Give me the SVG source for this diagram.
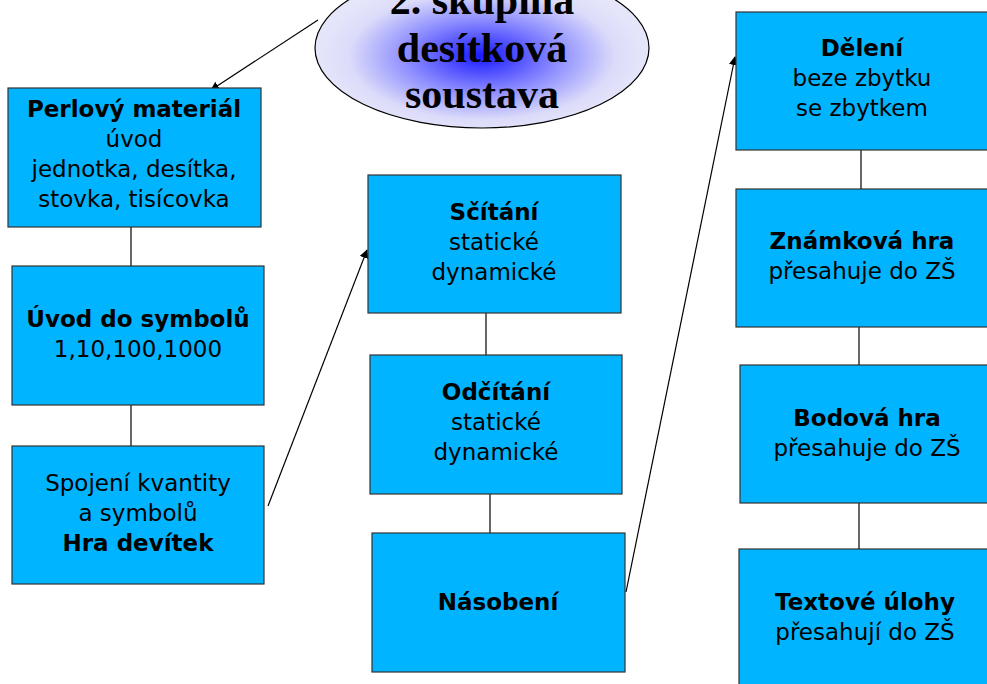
<svg xmlns="http://www.w3.org/2000/svg" width="987" height="684" viewBox="0 0 987 684">
<defs>
<radialGradient id="eg" cx="50%" cy="55%" r="50%">
<stop offset="0" stop-color="#1a1aff"/>
<stop offset="0.45" stop-color="#8c8cff"/>
<stop offset="0.8" stop-color="#dcdcfa"/>
<stop offset="1" stop-color="#e6e6fa"/>
</radialGradient>
<marker id="ah" viewBox="0 0 10 10" refX="9" refY="5" markerWidth="9" markerHeight="9" markerUnits="userSpaceOnUse" orient="auto">
<path d="M0,0 L10,5 L0,10 z" fill="#000"/>
</marker>
</defs>
<style>
.box{fill:#00b4ff;stroke:#333;stroke-width:1.2}
.t{font-family:"DejaVu Sans",sans-serif;font-size:23px;fill:#000;text-anchor:middle}
.b{font-weight:bold}
.c{stroke:#000;stroke-width:1.2;fill:none}
.e{font-family:"Liberation Serif",serif;font-weight:bold;font-size:42px;fill:#000;text-anchor:middle}
</style>
<g id="connectors">
<line class="c" x1="318" y1="20" x2="211" y2="90" marker-end="url(#ah)"/>
<line class="c" x1="268" y1="506" x2="367" y2="250" marker-end="url(#ah)"/>
<line class="c" x1="626" y1="592" x2="735" y2="57" marker-end="url(#ah)"/>
<line class="c" x1="131" y1="227" x2="131" y2="266"/>
<line class="c" x1="131" y1="405" x2="131" y2="446"/>
<line class="c" x1="486" y1="313" x2="486" y2="355"/>
<line class="c" x1="490" y1="494" x2="490" y2="539"/>
<line class="c" x1="861" y1="150" x2="861" y2="189"/>
<line class="c" x1="859" y1="327" x2="859" y2="365"/>
<line class="c" x1="859" y1="503" x2="859" y2="549"/>
</g>
<g id="ellipse">
<ellipse cx="482" cy="48" rx="167" ry="80" fill="url(#eg)" stroke="#000" stroke-width="1.2"/>
<text class="e" x="482" y="14">2. skupina</text>
<text class="e" x="482" y="62">desítková</text>
<text class="e" x="482" y="108">soustava</text>
</g>
<g id="perlovy">
<rect class="box" x="8" y="88" width="253" height="139"/>
<text class="t b" x="134" y="117">Perlový materiál</text>
<text class="t" x="134" y="147">úvod</text>
<text class="t" x="134" y="177">jednotka, desítka,</text>
<text class="t" x="134" y="207">stovka, tisícovka</text>
</g>
<g id="uvod">
<rect class="box" x="12" y="266" width="252" height="139"/>
<text class="t b" x="138" y="327">Úvod do symbolů</text>
<text class="t" x="138" y="357">1,10,100,1000</text>
</g>
<g id="spojeni">
<rect class="box" x="12" y="446" width="252" height="138"/>
<text class="t" x="138" y="491">Spojení kvantity</text>
<text class="t" x="138" y="521">a symbolů</text>
<text class="t b" x="138" y="551">Hra devítek</text>
</g>
<g id="scitani">
<rect class="box" x="368" y="175" width="253" height="138"/>
<text class="t b" x="494" y="220">Sčítání</text>
<text class="t" x="494" y="250">statické</text>
<text class="t" x="494" y="280">dynamické</text>
</g>
<g id="odcitani">
<rect class="box" x="370" y="355" width="252" height="139"/>
<text class="t b" x="496" y="400">Odčítání</text>
<text class="t" x="496" y="430">statické</text>
<text class="t" x="496" y="460">dynamické</text>
</g>
<g id="nasobeni">
<rect class="box" x="372" y="533" width="253" height="139"/>
<text class="t b" x="498" y="610">Násobení</text>
</g>
<g id="deleni">
<rect class="box" x="736" y="12" width="255" height="138"/>
<text class="t b" x="862" y="56">Dělení</text>
<text class="t" x="862" y="86">beze zbytku</text>
<text class="t" x="862" y="116">se zbytkem</text>
</g>
<g id="znamkova">
<rect class="box" x="736" y="189" width="255" height="138"/>
<text class="t b" x="862" y="249">Známková hra</text>
<text class="t" x="862" y="279">přesahuje do ZŠ</text>
</g>
<g id="bodova">
<rect class="box" x="740" y="365" width="251" height="138"/>
<text class="t b" x="867" y="426">Bodová hra</text>
<text class="t" x="867" y="456">přesahuje do ZŠ</text>
</g>
<g id="textove">
<rect class="box" x="739" y="549" width="252" height="140"/>
<text class="t b" x="865" y="610">Textové úlohy</text>
<text class="t" x="865" y="640">přesahují do ZŠ</text>
</g>
</svg>
